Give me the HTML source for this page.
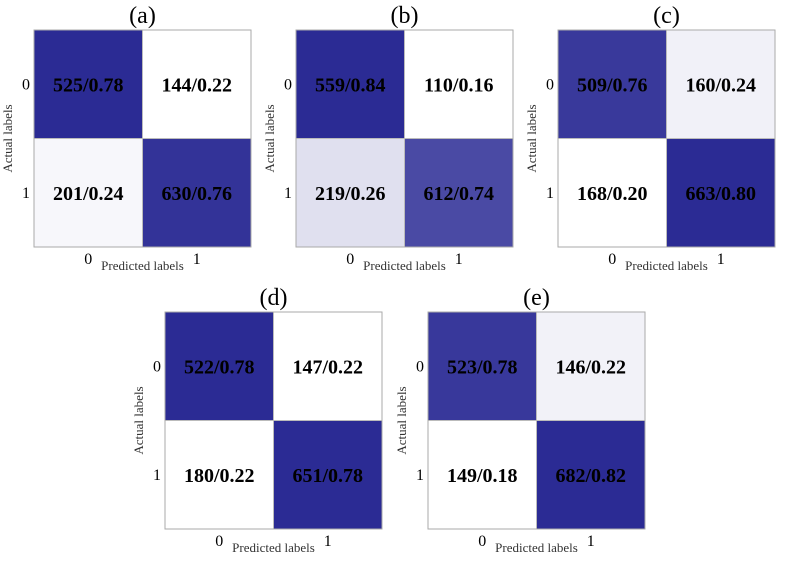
<!DOCTYPE html>
<html><head><meta charset="utf-8"><style>
body{margin:0;background:#fff;width:786px;height:557px;overflow:hidden}
svg{font-family:"Liberation Serif",serif}
</style></head><body>
<svg id="fig" width="786" height="557"></svg>
<script>
const panelTitles=["(a)","(b)","(c)","(d)","(e)"];
const counts=[[525,144,201,630],[559,110,219,612],[509,160,168,663],[522,147,180,651],[523,146,149,682]];
const ratios=[[0.78,0.22,0.24,0.76],[0.84,0.16,0.26,0.74],[0.76,0.24,0.20,0.80],[0.78,0.22,0.22,0.78],[0.78,0.22,0.18,0.82]];
const classLabels=["0","1"];
const boxes=[[34,30],[296,30],[558,30],[165,312],[428,312]];
const S=217;
const NS="http://www.w3.org/2000/svg";
const svg=document.getElementById('fig');
function el(t,a,p){const e=document.createElementNS(NS,t);for(const k in a)e.setAttribute(k,a[k]);(p||svg).appendChild(e);return e;}
function col(t){const d=[43,43,148];const c=d.map(v=>Math.round(255+(v-255)*t));return `rgb(${c})`;}
panelTitles.forEach((title,p)=>{
  const [x0,y0]=boxes[p];
  const g=el('g',{});
  
  
  const r=ratios[p];const mn=Math.min(...r),mx=Math.max(...r);
  const h=S/2;
  for(let i=0;i<4;i++){
    const row=Math.floor(i/2),c=i%2;
    const rc=el('rect',{x:x0+c*h,y:y0+row*h,width:h,height:h,fill:col((r[i]-mn)/(mx-mn))},g);
    
    
    const t=el('text',{x:x0+c*h+h/2,y:y0+row*h+h/2+7,'text-anchor':'middle','font-size':'20','font-weight':'bold',fill:'#000'},g);
    t.textContent=counts[p][i]+'/'+r[i].toFixed(2);
    
    
  }
  el('line',{x1:x0+h,y1:y0,x2:x0+h,y2:y0+S,stroke:'#bbb','stroke-width':1},g);
  el('line',{x1:x0,y1:y0+h,x2:x0+S,y2:y0+h,stroke:'#bbb','stroke-width':1},g);
  el('rect',{x:x0,y:y0,width:S,height:S,fill:'none',stroke:'#aaa','stroke-width':1},g);
  const tt=el('text',{x:x0+S/2,y:y0-7,'text-anchor':'middle','font-size':'24'},g);
  tt.textContent=title;
  classLabels.forEach((l,i)=>{
    const yt=el('text',{x:x0-4,y:y0+h*i+h/2+5,'text-anchor':'end','font-size':'16'},g);
    yt.textContent=l;
    const xt=el('text',{x:x0+h*i+h/2,y:y0+S+17,'text-anchor':'middle','font-size':'16'},g);
    xt.textContent=l;
  });
  const xl=el('text',{x:x0+S/2,y:y0+S+23,'text-anchor':'middle','font-size':'13',fill:'#333'},g);
  xl.textContent='Predicted labels';
  const yl=el('text',{x:0,y:0,'text-anchor':'middle','font-size':'13',fill:'#333',transform:`translate(${x0-22},${y0+S/2}) rotate(-90)`},g);
  yl.textContent='Actual labels';
});
</script>
</body></html>
